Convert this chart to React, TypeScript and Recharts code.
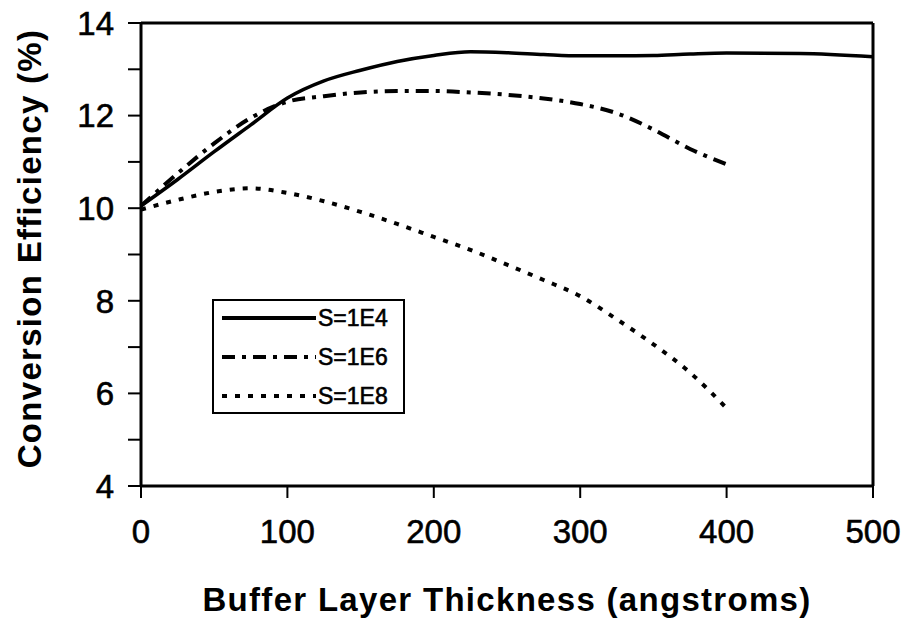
import React from 'react';
import { LineChart, Line, XAxis, YAxis, ReferenceLine } from 'recharts';

const thickness = [0, 25, 50, 75, 100, 125, 150, 175, 200, 225, 250, 275, 300, 325, 350, 375, 400, 450, 500];
const s1e4 = [10.05, 10.62, 11.22, 11.8, 12.38, 12.75, 12.98, 13.17, 13.3, 13.38, 13.36, 13.32, 13.29, 13.29, 13.3, 13.33, 13.35, 13.34, 13.27];
const s1e6 = [10.05, 10.75, 11.4, 11.95, 12.3, 12.42, 12.5, 12.53, 12.53, 12.5, 12.45, 12.37, 12.25, 12.05, 11.7, 11.28, 10.95, null, null];
const s1e8 = [9.97, 10.18, 10.35, 10.43, 10.33, 10.15, 9.92, 9.66, 9.38, 9.1, 8.78, 8.45, 8.1, 7.6, 7.06, 6.45, 5.68, null, null];

const seriesNames = ['S=1E4', 'S=1E6', 'S=1E8'];
const xTicks = [0, 100, 200, 300, 400, 500];
const yTicks = [4, 5, 6, 7, 8, 9, 10, 11, 12, 13, 14];
const yLabels = [4, 6, 8, 10, 12, 14];

const data = thickness.map((t, i) => ({
  t,
  [seriesNames[0]]: s1e4[i],
  [seriesNames[1]]: s1e6[i],
  [seriesNames[2]]: s1e8[i],
}));

const FONT = '"Liberation Sans", Arial, Helvetica, sans-serif';

const dashes: Record<string, string | undefined> = {
  'S=1E4': undefined,
  'S=1E6': '13 7 4 7',
  'S=1E8': '5 8',
};

const LegendBox = () => (
  <div style={{ position: 'absolute', left: 212, top: 299, width: 193, height: 115, border: '2px solid #000', background: '#fff', boxSizing: 'border-box' }}>
    <svg width={189} height={111} style={{ display: 'block' }}>
      {seriesNames.map((name, i) => {
        const cy = 17 + i * 39;
        return (
          <g key={name}>
            <line x1={8} x2={102} y1={cy} y2={cy} stroke="#000" strokeWidth={4} strokeDasharray={dashes[name]} />
            <text x={104} y={cy} dominantBaseline="central" fontFamily={FONT} fontSize={23} fill="#000" stroke="#000" strokeWidth={0.6}>{name}</text>
          </g>
        );
      })}
    </svg>
  </div>
);

const YTitle = (props: any) => {
  const vb = props.viewBox || {};
  const cx = vb.x + 29;
  const cy = vb.y + vb.height / 2 - 6;
  return (
    <text x={cx} y={cy} transform={`rotate(-90 ${cx} ${cy})`} textAnchor="middle" dominantBaseline="central" fontFamily={FONT} fontWeight="bold" fontSize={33} letterSpacing={1.3} fill="#000">
      Conversion Efficiency (%)
    </text>
  );
};

const XTitle = (props: any) => {
  const vb = props.viewBox || {};
  const cx = vb.x + vb.width / 2;
  const cy = vb.y + 113;
  return (
    <text x={cx} y={cy} textAnchor="middle" dominantBaseline="central" fontFamily={FONT} fontWeight="bold" fontSize={33} letterSpacing={1.3} fill="#000">
      Buffer Layer Thickness (angstroms)
    </text>
  );
};

const tickStyle = { fill: '#000', fontSize: 33, fontFamily: FONT, stroke: '#000', strokeWidth: 0.6 };

export default function App() {
  return (
    <div style={{ position: 'absolute', left: 0, top: 0, width: 907, height: 621, background: '#fff' }}>
      <LineChart width={907} height={621} data={data} margin={{ top: 23, right: 34, bottom: 0, left: 0 }}>
        <XAxis
          dataKey="t"
          type="number"
          domain={[0, 500]}
          ticks={xTicks}
          interval={0}
          height={135}
          axisLine={{ stroke: '#000', strokeWidth: 3 }}
          tickLine={{ stroke: '#000', strokeWidth: 2 }}
          tickSize={12}
          tickMargin={22}
          tick={tickStyle}
          label={<XTitle />}
        />
        <YAxis
          type="number"
          domain={[4, 14]}
          ticks={yTicks}
          interval={0}
          width={141}
          axisLine={{ stroke: '#000', strokeWidth: 3 }}
          tickLine={{ stroke: '#000', strokeWidth: 2 }}
          tickSize={13}
          tickMargin={14}
          tickFormatter={(v: number) => (yLabels.includes(v) ? String(v) : '')}
          tick={tickStyle}
          label={<YTitle />}
        />
        <ReferenceLine y={14} stroke="#000" strokeWidth={3} />
        <ReferenceLine x={500} stroke="#000" strokeWidth={3} />
        {seriesNames.map((name) => (
          <Line
            key={name}
            type="monotone"
            dataKey={name}
            stroke="#000"
            strokeWidth={name === 'S=1E4' ? 3.5 : 4}
            strokeDasharray={dashes[name]}
            dot={false}
            activeDot={false}
            connectNulls={false}
            isAnimationActive={false}
          />
        ))}
      </LineChart>
      <LegendBox />
    </div>
  );
}
